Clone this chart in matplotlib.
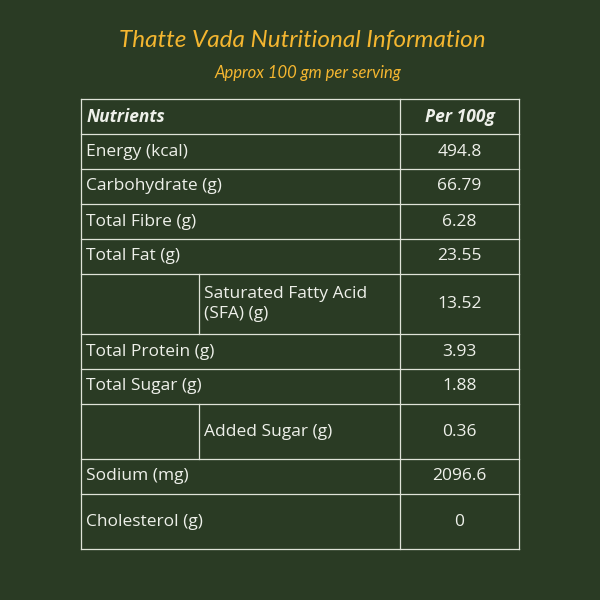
import matplotlib.pyplot as plt

nutrients = ["Energy (kcal)", "Carbohydrate (g)", "Total Fibre (g)", "Total Fat (g)",
             "Saturated Fatty Acid\n(SFA) (g)", "Total Protein (g)", "Total Sugar (g)",
             "Added Sugar (g)", "Sodium (mg)", "Cholesterol (g)"]
values = ["494.8", "66.79", "6.28", "23.55", "13.52", "3.93", "1.88", "0.36", "2096.6", "0"]
sub_rows = [False, False, False, False, True, False, False, True, False, False]

bg = "#2a3b24"
line_c = "#dfe3d8"
text_c = "#eef0ea"
gold = "#f4b630"

# row boundaries in pixels (header + 10 rows)
edges = [99, 134, 169, 204, 239, 274, 334, 369, 404, 459, 494, 549]
x0, xs, xm, x1 = 81, 199, 400, 519

fig = plt.figure(figsize=(6, 6), dpi=100)
fig.patch.set_facecolor(bg)
ax = fig.add_axes([0, 0, 1, 1])
ax.set_xlim(0, 600)
ax.set_ylim(600, 0)
ax.axis('off')

ax.text(302, 40, "Thatte Vada Nutritional Information", color=gold, fontsize=17.5,
        style='italic', family='Lato', ha='center', va='center')
ax.text(308, 73, "Approx 100 gm per serving", color=gold, fontsize=12,
        style='italic', family='Lato', ha='center', va='center')

lw = 0.9
for y in edges:
    ax.plot([x0, x1], [y, y], color=line_c, lw=lw)
ax.plot([x0, x0], [edges[0], edges[-1]], color=line_c, lw=lw)
ax.plot([x1, x1], [edges[0], edges[-1]], color=line_c, lw=lw)
ax.plot([xm, xm], [edges[0], edges[-1]], color=line_c, lw=lw)

fs = 12.5
ax.text(x0 + 6, (edges[0] + edges[1]) / 2, "Nutrients", color=text_c, fontsize=fs,
        weight='bold', style='italic', family='Open Sans', va='center')
ax.text((xm + x1) / 2, (edges[0] + edges[1]) / 2, "Per 100g", color=text_c, fontsize=fs,
        weight='bold', style='italic', family='Open Sans', va='center', ha='center')

for i, (n, v, sub) in enumerate(zip(nutrients, values, sub_rows)):
    ya, yb = edges[i + 1], edges[i + 2]
    yc = (ya + yb) / 2
    if sub:
        ax.plot([xs, xs], [ya, yb], color=line_c, lw=lw)
        ax.text(xs + 5, yc, n, color=text_c, fontsize=fs, family='Open Sans',
                va='center', linespacing=1.3)
    else:
        ax.text(x0 + 5, yc, n, color=text_c, fontsize=fs, family='Open Sans', va='center')
    ax.text((xm + x1) / 2, yc, v, color=text_c, fontsize=fs, family='Open Sans',
            va='center', ha='center')

fig.savefig("out.png", dpi=100, facecolor=bg)
